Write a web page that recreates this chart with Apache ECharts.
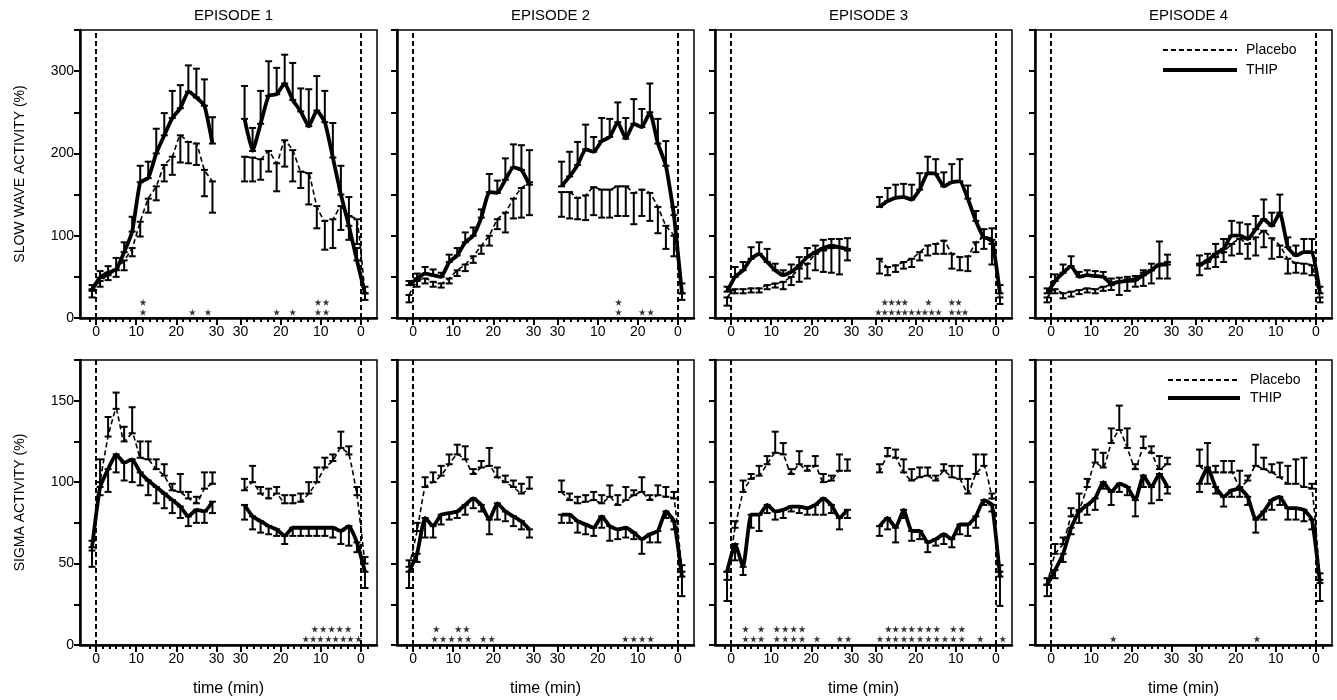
<!DOCTYPE html>
<html>
<head>
<meta charset="utf-8">
<script src="https://cdn.jsdelivr.net/npm/echarts@6/dist/echarts.min.js"></script>
<style>
html, body { margin: 0; background: #fff; }
#main { width: 1337px; height: 700px; }
</style>
</head>
<body>
<div id="main"></div>
<script>
// time points (min) of each segment: after sleep onset, then before episode end
var times1 = [-1, 1, 3, 5, 7, 9, 11, 13, 15, 17, 19, 21, 23, 25, 27, 29];
var times2 = [29, 27, 25, 23, 21, 19, 17, 15, 13, 11, 9, 7, 5, 3, 1, -1];

var xLabels = ['0', '10', '20', '30', '30', '20', '10', '0'];
var xLabelsSwaEp2 = ['0', '10', '20', '30', '30', '10', '20', '0'];
var episodes = ['EPISODE 1', 'EPISODE 2', 'EPISODE 3', 'EPISODE 4'];

// slow wave activity (%), 32 values: 16 of segment 1 then 16 of segment 2
var swaEp1Thip = [35, 49, 55, 59, 80, 105, 165, 170, 200, 222, 243, 255, 275, 268, 258, 212,
  242, 203, 236, 270, 272, 285, 265, 251, 233, 252, 238, 195, 150, 112, 70, 30];
var swaEp1ThipSem = [5, 8, 8, 14, 12, 18, 20, 20, 30, 27, 33, 28, 32, 35, 32, 32,
  40, 28, 40, 42, 32, 35, 45, 28, 45, 42, 38, 42, 35, 35, 15, 8];
var swaEp1Pla = [33, 45, 52, 58, 70, 85, 117, 145, 160, 186, 196, 222, 214, 212, 180, 166,
  196, 195, 193, 203, 188, 216, 204, 178, 176, 136, 118, 120, 136, 124, 120, 30];
var swaEp1PlaSem = [8, 7, 6, 8, 12, 10, 18, 17, 17, 20, 22, 33, 26, 26, 32, 38,
  30, 29, 25, 25, 34, 32, 38, 20, 38, 27, 35, 35, 29, 29, 30, 8];

var swaEp2Thip = [40, 48, 54, 52, 50, 68, 76, 92, 100, 122, 153, 152, 168, 183, 180, 162,
  160, 172, 186, 205, 202, 215, 220, 238, 218, 236, 232, 250, 212, 185, 125, 30];
var swaEp2ThipSem = [5, 6, 8, 7, 5, 9, 9, 12, 10, 10, 22, 15, 26, 28, 30, 42,
  30, 30, 28, 30, 18, 28, 22, 24, 25, 30, 22, 35, 30, 30, 10, 12];
var swaEp2Pla = [28, 45, 48, 44, 42, 48, 58, 65, 75, 88, 100, 120, 128, 145, 158, 165,
  153, 153, 146, 149, 159, 156, 156, 160, 160, 152, 156, 152, 135, 112, 100, 30];
var swaEp2PlaSem = [9, 7, 6, 6, 5, 6, 7, 8, 8, 10, 12, 12, 24, 24, 36, 40,
  30, 32, 26, 30, 34, 34, 34, 36, 36, 38, 32, 34, 32, 28, 25, 8];

var swaEp3Thip = [32, 50, 58, 72, 78, 68, 58, 52, 56, 64, 74, 80, 85, 88, 86, 84,
  135, 142, 146, 147, 144, 156, 176, 175, 160, 165, 166, 145, 118, 98, 95, 30];
var swaEp3ThipSem = [6, 12, 10, 14, 14, 16, 8, 6, 9, 10, 11, 8, 10, 8, 10, 13,
  12, 16, 16, 16, 18, 20, 20, 18, 17, 22, 27, 16, 12, 10, 14, 10];
var swaEp3Pla = [25, 35, 35, 36, 36, 40, 42, 44, 50, 60, 66, 78, 82, 85, 85, 82,
  72, 62, 64, 68, 72, 80, 88, 90, 94, 78, 74, 75, 92, 98, 90, 25];
var swaEp3PlaSem = [10, 5, 5, 5, 5, 5, 5, 9, 10, 16, 18, 20, 26, 30, 32, 12,
  18, 10, 8, 8, 10, 10, 12, 12, 16, 18, 16, 18, 12, 14, 25, 8];

var swaEp4Thip = [30, 45, 55, 63, 50, 52, 51, 50, 42, 44, 45, 46, 52, 58, 65, 65,
  64, 70, 78, 84, 100, 100, 96, 108, 120, 112, 128, 86, 76, 80, 80, 30];
var swaEp4ThipSem = [6, 8, 10, 12, 6, 6, 6, 6, 6, 5, 5, 5, 6, 8, 28, 12,
  12, 8, 12, 12, 18, 16, 18, 16, 24, 16, 22, 12, 12, 16, 16, 8];
var swaEp4Pla = [25, 35, 30, 32, 34, 36, 35, 38, 40, 44, 47, 48, 55, 58, 64, 68,
  66, 68, 74, 80, 90, 96, 90, 98, 106, 97, 88, 72, 67, 66, 64, 25];
var swaEp4PlaSem = [6, 5, 6, 6, 5, 5, 5, 5, 6, 16, 14, 10, 16, 16, 16, 20,
  14, 8, 12, 12, 14, 18, 18, 22, 20, 25, 14, 18, 12, 12, 12, 6];

// sigma activity (%)
var sigEp1Thip = [60, 97, 108, 117, 112, 114, 106, 101, 97, 93, 89, 85, 79, 83, 82, 88,
  86, 79, 76, 73, 71, 67, 72, 72, 72, 72, 72, 72, 70, 73, 63, 45];
var sigEp1ThipSem = [12, 5, 14, 11, 11, 14, 8, 9, 10, 9, 8, 7, 6, 8, 7, 7,
  9, 8, 7, 5, 4, 5, 5, 5, 5, 5, 5, 6, 8, 12, 6, 10];
var sigEp1Pla = [58, 100, 128, 145, 125, 130, 115, 114, 108, 104, 95, 94, 90, 87, 96, 99,
  95, 100, 93, 90, 93, 87, 87, 88, 93, 100, 109, 113, 121, 117, 92, 50];
var sigEp1PlaSem = [6, 14, 12, 10, 9, 16, 10, 11, 6, 7, 4, 11, 4, 4, 10, 7,
  7, 10, 4, 6, 4, 5, 5, 5, 7, 9, 6, 4, 10, 5, 5, 4];

var sigEp2Thip = [45, 56, 78, 73, 80, 81, 82, 86, 90, 86, 77, 87, 82, 79, 76, 71,
  80, 80, 76, 74, 72, 79, 73, 71, 72, 69, 65, 68, 70, 82, 76, 42];
var sigEp2ThipSem = [10, 5, 12, 7, 6, 4, 4, 6, 6, 4, 9, 10, 6, 6, 5, 5,
  5, 5, 7, 6, 5, 7, 9, 6, 6, 4, 9, 5, 7, 4, 5, 12];
var sigEp2Pla = [48, 70, 97, 100, 104, 111, 117, 114, 105, 109, 110, 103, 100, 97, 93, 96,
  94, 89, 87, 88, 89, 87, 91, 86, 89, 92, 94, 89, 92, 91, 90, 45];
var sigEp2PlaSem = [4, 5, 6, 6, 6, 6, 6, 8, 3, 4, 11, 6, 4, 4, 6, 7,
  7, 4, 4, 4, 5, 5, 7, 6, 8, 3, 9, 3, 6, 6, 4, 4];

var sigEp3Thip = [45, 62, 48, 80, 80, 86, 82, 83, 85, 85, 84, 86, 90, 86, 78, 83,
  73, 78, 72, 83, 70, 70, 63, 65, 68, 65, 74, 74, 79, 89, 86, 42];
var sigEp3ThipSem = [18, 10, 5, 8, 10, 5, 5, 5, 3, 4, 4, 6, 10, 5, 7, 5,
  6, 7, 9, 5, 6, 5, 6, 4, 6, 5, 6, 7, 7, 3, 4, 18];
var sigEp3Pla = [40, 72, 94, 102, 104, 111, 118, 117, 105, 111, 107, 110, 100, 101, 107, 107,
  106, 116, 115, 106, 101, 103, 104, 101, 107, 103, 102, 93, 105, 110, 90, 45];
var sigEp3PlaSem = [5, 4, 7, 3, 6, 5, 13, 7, 3, 8, 3, 6, 5, 3, 10, 7,
  5, 5, 5, 8, 7, 6, 5, 3, 4, 7, 8, 9, 12, 7, 3, 4];

var sigEp4Thip = [37, 46, 56, 72, 82, 86, 90, 100, 94, 99, 97, 89, 104, 97, 105, 97,
  99, 109, 97, 91, 95, 96, 91, 77, 82, 89, 91, 84, 84, 83, 77, 38];
var sigEp4ThipSem = [7, 5, 5, 4, 7, 6, 7, 4, 8, 5, 5, 10, 7, 10, 16, 4,
  5, 10, 4, 6, 4, 5, 5, 8, 5, 6, 5, 7, 7, 7, 6, 11];
var sigEp4Pla = [37, 56, 62, 79, 83, 97, 112, 109, 124, 132, 121, 108, 121, 118, 108, 111,
  110, 106, 106, 106, 106, 97, 101, 110, 108, 106, 103, 99, 99, 97, 96, 40];
var sigEp4PlaSem = [4, 6, 4, 5, 10, 5, 8, 9, 9, 15, 12, 3, 7, 4, 8, 4,
  10, 18, 4, 7, 7, 10, 3, 13, 7, 5, 9, 11, 15, 18, 3, 4];

// significance stars, [segment, minute]
var swaEp1StarsHi = [[1, 11.7], [2, 10.7], [2, 8.7]];
var swaEp1StarsLo = [[1, 11.7], [1, 24], [1, 27.9], [2, 21], [2, 17], [2, 10.7], [2, 8.7]];
var swaEp2StarsHi = [[2, 14.8]];
var swaEp2StarsLo = [[2, 14.8], [2, 8.9], [2, 6.8]];
var swaEp3StarsHi = [[2, 27.7], [2, 26], [2, 24.3], [2, 22.7], [2, 16.8], [2, 11], [2, 9.3]];
var swaEp3StarsLo = [[2, 29.3], [2, 27.7], [2, 26], [2, 24.3], [2, 22.7], [2, 21], [2, 19.3],
  [2, 17.7], [2, 16], [2, 14.3], [2, 11], [2, 9.3], [2, 7.7]];
var swaEp4StarsHi = [];
var swaEp4StarsLo = [];
var sigEp1StarsHi = [[2, 11.5], [2, 9.4], [2, 7.3], [2, 5.3], [2, 3.2]];
var sigEp1StarsLo = [[2, 13.75], [2, 11.9], [2, 10.1], [2, 8.1], [2, 6.3], [2, 4.4], [2, 2.6], [2, 0.6]];
var sigEp2StarsHi = [[1, 5.8], [1, 11.25], [1, 13.3]];
var sigEp2StarsLo = [[1, 5.4], [1, 7.5], [1, 9.6], [1, 11.7], [1, 13.75], [1, 17.5], [1, 19.6],
  [2, 13.1], [2, 11], [2, 8.9], [2, 6.8]];
var sigEp3StarsHi = [[1, 3.6], [1, 7.5], [1, 11.4], [1, 13.5], [1, 15.6], [1, 17.7],
  [2, 26.8], [2, 25], [2, 22.9], [2, 21], [2, 18.9], [2, 16.8], [2, 14.75], [2, 10.6], [2, 8.5]];
var sigEp3StarsLo = [[1, 3.6], [1, 5.6], [1, 7.5], [1, 11.4], [1, 13.5], [1, 15.6], [1, 17.7],
  [1, 21.4], [1, 27.1], [1, 29.2], [2, 28.9], [2, 26.8], [2, 25], [2, 22.9], [2, 21], [2, 18.9],
  [2, 16.8], [2, 14.75], [2, 12.7], [2, 10.6], [2, 8.5], [2, 3.9], [2, -1.7]];
var sigEp4StarsHi = [];
var sigEp4StarsLo = [[1, 15.5], [2, 14.7]];

// layout
var colLeft = [80, 397, 715, 1035];
var rowTop = [30, 360];
var rowHeight = [288, 285];
var panelWidth = 297;
var FONT = 'Liberation Sans, Arial, Helvetica, sans-serif';
var STAR = 'path://M50,0 L61,35 L98,35 L68,57 L79,91 L50,70 L21,91 L32,57 L2,35 L39,35 Z';

// shared axis: segment 1 runs -4..30, gap, segment 2 runs 30..-4 (u = 66 - t)
function toU(seg, t) { return seg === 1 ? t : 66 - t; }
var majorU = [0, 10, 20, 30, 36, 46, 56, 66];
var minorU = [];
for (var k = -1; k <= 18; k++) minorU.push(k * 5 / 3);
for (var k = 0; k <= 19; k++) minorU.push(36 + k * 5 / 3);

function linePts(vals) {
  var pts = [];
  for (var i = 0; i < 16; i++) pts.push([toU(1, times1[i]), vals[i]]);
  pts.push([33, '-']);
  for (var i = 0; i < 16; i++) pts.push([toU(2, times2[i]), vals[16 + i]]);
  return pts;
}
function barPts(vals, sem, dir) {
  var pts = [];
  for (var i = 0; i < 32; i++) {
    var u = i < 16 ? toU(1, times1[i]) : toU(2, times2[i - 16]);
    pts.push([u, vals[i], sem[i], dir]);
  }
  return pts;
}
function starPts(list, y) {
  return list.map(function (s) { return [toU(s[0], s[1]), y]; });
}
function renderBar(params, api) {
  var u = api.value(0), m = api.value(1), e = api.value(2), d = api.value(3);
  var a = api.coord([u, m]), b = api.coord([u, m + d * e]);
  var w = 3.5;
  var st = { stroke: '#000', lineWidth: 2 };
  return { type: 'group', children: [
    { type: 'line', shape: { x1: a[0], y1: a[1], x2: b[0], y2: b[1] }, style: st },
    { type: 'line', shape: { x1: b[0] - w, y1: b[1], x2: b[0] + w, y2: b[1] }, style: st },
    { type: 'line', shape: { x1: a[0] - w, y1: a[1], x2: a[0] + w, y2: a[1] }, style: st }
  ] };
}

var panels = [
  { thip: swaEp1Thip, thipSem: swaEp1ThipSem, pla: swaEp1Pla, plaSem: swaEp1PlaSem, hi: swaEp1StarsHi, lo: swaEp1StarsLo, labels: xLabels },
  { thip: swaEp2Thip, thipSem: swaEp2ThipSem, pla: swaEp2Pla, plaSem: swaEp2PlaSem, hi: swaEp2StarsHi, lo: swaEp2StarsLo, labels: xLabelsSwaEp2 },
  { thip: swaEp3Thip, thipSem: swaEp3ThipSem, pla: swaEp3Pla, plaSem: swaEp3PlaSem, hi: swaEp3StarsHi, lo: swaEp3StarsLo, labels: xLabels },
  { thip: swaEp4Thip, thipSem: swaEp4ThipSem, pla: swaEp4Pla, plaSem: swaEp4PlaSem, hi: swaEp4StarsHi, lo: swaEp4StarsLo, labels: xLabels },
  { thip: sigEp1Thip, thipSem: sigEp1ThipSem, pla: sigEp1Pla, plaSem: sigEp1PlaSem, hi: sigEp1StarsHi, lo: sigEp1StarsLo, labels: xLabels },
  { thip: sigEp2Thip, thipSem: sigEp2ThipSem, pla: sigEp2Pla, plaSem: sigEp2PlaSem, hi: sigEp2StarsHi, lo: sigEp2StarsLo, labels: xLabels },
  { thip: sigEp3Thip, thipSem: sigEp3ThipSem, pla: sigEp3Pla, plaSem: sigEp3PlaSem, hi: sigEp3StarsHi, lo: sigEp3StarsLo, labels: xLabels },
  { thip: sigEp4Thip, thipSem: sigEp4ThipSem, pla: sigEp4Pla, plaSem: sigEp4PlaSem, hi: sigEp4StarsHi, lo: sigEp4StarsLo, labels: xLabels }
];

var grids = [], xAxes = [], yAxes = [], series = [], titles = [];

panels.forEach(function (p, g) {
  var r = Math.floor(g / 4), c = g % 4;
  var isSwa = r === 0;
  grids.push({ left: colLeft[c], top: rowTop[r], width: panelWidth, height: rowHeight[r],
    show: true, borderColor: '#000', borderWidth: 1.5, backgroundColor: 'transparent' });

  var labels = p.labels;
  xAxes.push({
    gridIndex: g, type: 'value', min: -4, max: 70, position: 'bottom',
    axisLine: { onZero: false, lineStyle: { color: '#000', width: 2.5 } },
    axisTick: { customValues: majorU, length: 7, lineStyle: { color: '#000', width: 2 } },
    axisLabel: { customValues: majorU, color: '#000', fontSize: 14, margin: 7, fontFamily: FONT,
      formatter: function (v) { var i = majorU.indexOf(Math.round(v)); return i < 0 ? '' : labels[i]; } },
    splitLine: { show: false },
    name: r === 1 ? 'time (min)' : '', nameLocation: 'middle', nameGap: 36,
    nameTextStyle: { color: '#000', fontSize: 16, fontFamily: FONT }
  });
  xAxes.push({
    gridIndex: g, type: 'value', min: -4, max: 70, position: 'bottom',
    axisLine: { show: false, onZero: false },
    axisTick: { customValues: minorU, length: 4, lineStyle: { color: '#000', width: 2 } },
    axisLabel: { show: false, customValues: minorU },
    splitLine: { show: false }
  });

  yAxes.push({
    gridIndex: g, type: 'value', min: 0, max: isSwa ? 350 : 175, interval: isSwa ? 50 : 25,
    axisLine: { show: true, onZero: false, lineStyle: { color: '#000', width: 2.5 } },
    axisTick: { length: 6, lineStyle: { color: '#000', width: 2 } },
    axisLabel: { show: c === 0, color: '#000', fontSize: 14, fontFamily: FONT, margin: 6,
      formatter: function (v) { return v % (isSwa ? 100 : 50) === 0 ? String(v) : ''; } },
    splitLine: { show: false },
    name: c === 0 ? (isSwa ? 'SLOW WAVE ACTIVITY (%)' : 'SIGMA ACTIVITY (%)') : '',
    nameLocation: 'middle', nameGap: 53, nameRotate: 90,
    nameTextStyle: { color: '#000', fontSize: 14, fontFamily: FONT }
  });

  if (r === 0) {
    titles.push({ text: episodes[c], left: colLeft[c] + panelWidth / 2, top: 3, textAlign: 'center',
      textStyle: { fontSize: 15, fontWeight: 'normal', color: '#000', fontFamily: FONT } });
  }

  var xi = 2 * g;
  // SWA: THIP above (bars up), placebo below (bars down); sigma the other way round
  var thipDir = isSwa ? 1 : -1;
  series.push({
    type: 'line', xAxisIndex: xi, yAxisIndex: g, data: linePts(p.pla), symbol: 'none', smooth: 0.15,
    lineStyle: { color: '#000', width: 1.6, type: [5, 3] }, z: 3,
    markLine: { silent: true, symbol: ['none', 'none'], label: { show: false },
      lineStyle: { color: '#000', width: 2, type: [5, 3] },
      data: [{ xAxis: 0 }, { xAxis: 66 }] }
  });
  series.push({
    type: 'line', xAxisIndex: xi, yAxisIndex: g, data: linePts(p.thip), symbol: 'none', smooth: 0.15,
    lineStyle: { color: '#000', width: 3.8 }, z: 4
  });
  series.push({
    type: 'custom', xAxisIndex: xi, yAxisIndex: g, renderItem: renderBar, z: 5,
    encode: { x: 0, y: 1 }, data: barPts(p.pla, p.plaSem, -thipDir)
  });
  series.push({
    type: 'custom', xAxisIndex: xi, yAxisIndex: g, renderItem: renderBar, z: 5,
    encode: { x: 0, y: 1 }, data: barPts(p.thip, p.thipSem, thipDir)
  });
  var starData = starPts(p.lo, isSwa ? 7 : 3.7).concat(starPts(p.hi, isSwa ? 19 : 9.8));
  series.push({
    type: 'scatter', xAxisIndex: xi, yAxisIndex: g, data: starData,
    symbol: STAR, symbolSize: 7, itemStyle: { color: '#000' }, z: 6
  });
});

// legend drawn in the two right-hand panels
var legendItems = [];
[[50, 70, 1163, 1237, 1246], [380, 398, 1168, 1240, 1250]].forEach(function (L) {
  legendItems.push({ type: 'line', shape: { x1: L[2], y1: L[0], x2: L[3], y2: L[0] },
    style: { stroke: '#000', lineWidth: 1.8, lineDash: [5, 3] }, z: 10 });
  legendItems.push({ type: 'line', shape: { x1: L[2], y1: L[1], x2: L[3], y2: L[1] },
    style: { stroke: '#000', lineWidth: 3.8 }, z: 10 });
  legendItems.push({ type: 'text', x: L[4], y: L[0], z: 10,
    style: { text: 'Placebo', fill: '#000', font: '14px ' + FONT, textVerticalAlign: 'middle' } });
  legendItems.push({ type: 'text', x: L[4], y: L[1], z: 10,
    style: { text: 'THIP', fill: '#000', font: '14px ' + FONT, textVerticalAlign: 'middle' } });
});

var chart = echarts.init(document.getElementById('main'));
chart.setOption({
  animation: false,
  backgroundColor: '#fff',
  textStyle: { fontFamily: FONT },
  title: titles,
  grid: grids,
  xAxis: xAxes,
  yAxis: yAxes,
  series: series,
  graphic: legendItems
});
</script>
</body>
</html>
